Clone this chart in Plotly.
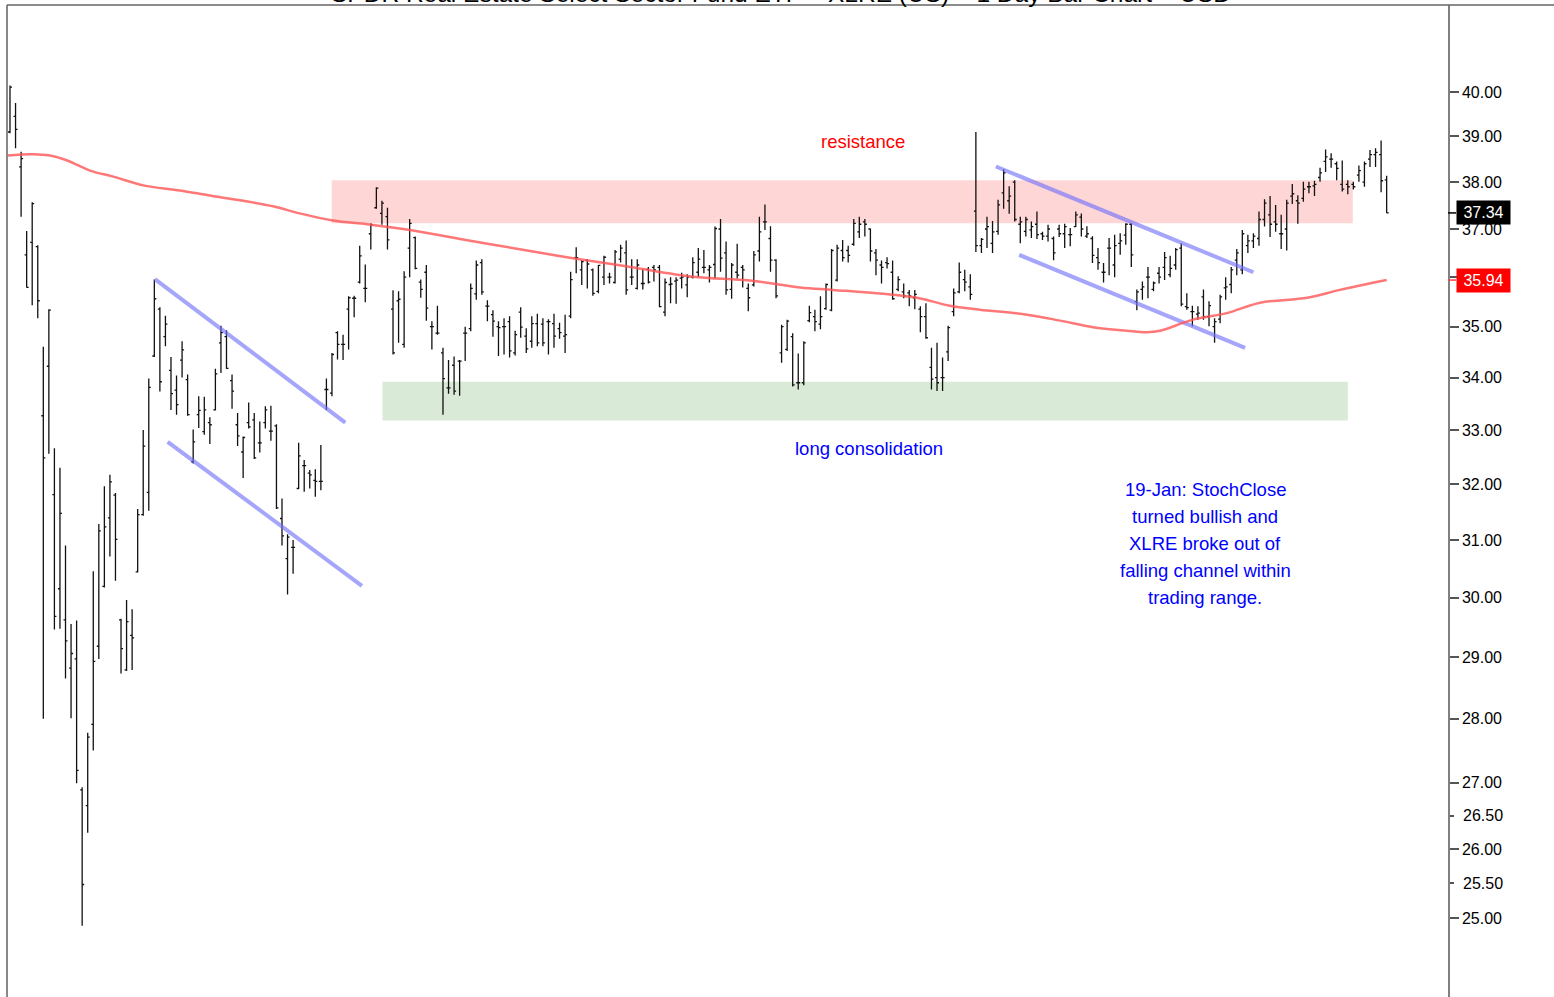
import math
import plotly.graph_objects as go

# ---------------- data ----------------
title_text = "SPDR Real Estate Select Sector Fund ETF – XLRE (US) – 1 Day Bar Chart – USD"

opens = [
    39.10, 39.45, 38.33, 36.46, 36.72, 36.63, 33.27, 34.22, 31.81, 30.15,
    29.62, 28.82, 28.97, 26.89, 26.65, 27.91, 29.18, 30.19, 31.39, 31.80,
    29.62, 28.79, 29.36, 30.44, 31.45, 31.85, 34.42, 35.35, 34.80, 34.14,
    33.76, 34.34, 33.96, 32.41, 33.29, 32.97, 33.14, 33.38, 34.68, 34.80,
    33.94, 33.10, 32.59, 33.14, 33.19, 32.76, 33.14, 32.98, 33.08, 31.38,
    30.67, 30.87, 31.92, 32.34, 32.20, 32.07, 32.05, 33.77, 33.70, 34.88,
    34.65, 35.35, 35.57, 35.90, 35.77, 36.90, 37.45, 37.33, 37.26, 35.35,
    35.52, 34.65, 36.60, 36.82, 35.90, 36.10, 35.00, 34.87, 34.48, 33.80,
    34.24, 34.32, 34.87, 34.96, 35.66, 36.30, 35.41, 35.24, 35.00, 35.00,
    35.10, 34.48, 35.29, 34.81, 34.71, 35.06, 35.05, 35.10, 35.06, 34.96,
    34.81, 35.21, 36.40, 36.15, 36.35, 36.15, 35.71, 36.00, 36.00, 35.89,
    36.37, 36.50, 36.00, 35.77, 35.87, 36.16, 36.20, 36.20, 35.29, 35.85,
    35.92, 35.98, 35.84, 36.00, 36.10, 36.20, 36.15, 36.26, 37.00, 36.50,
    35.75, 36.10, 36.20, 35.77, 35.84, 36.54, 37.15, 36.80, 36.35, 34.48,
    34.55, 34.80, 33.90, 33.90, 35.12, 35.20, 35.05, 35.36, 35.33, 35.94,
    36.55, 36.55, 36.68, 36.94, 37.15, 37.00, 36.50, 36.25, 36.30, 36.10,
    35.75, 35.70, 35.68, 35.58, 35.35, 35.20, 34.20, 34.00, 34.00, 34.50,
    35.30, 35.70, 35.95, 35.80, 37.38, 36.65, 37.00, 36.70, 36.95, 37.77,
    37.60, 38.00, 37.10, 36.95, 36.98, 37.10, 36.90, 36.85, 36.80, 37.00,
    36.90, 36.88, 37.05, 37.25, 36.85, 36.80, 36.40, 36.10, 36.60, 36.25,
    36.70, 36.87, 37.10, 35.50, 35.75, 36.00, 35.75, 36.08, 36.20, 36.05,
    36.25, 36.60, 35.40, 35.30, 35.25, 35.60, 35.20, 35.00, 35.15, 35.78,
    35.85, 36.35, 36.15, 36.65, 36.75, 36.80, 37.20, 37.30, 37.15, 36.90,
    37.00, 37.70, 37.60, 37.65, 37.90, 37.92, 38.10, 38.45, 38.50, 38.40,
    37.95, 37.95, 37.95, 38.15, 38.00, 38.50, 38.60, 38.60, 38.05,
]
highs = [
    40.15, 39.75, 38.66, 36.96, 37.57, 36.66, 34.60, 35.35, 32.66, 32.30,
    30.90, 29.55, 29.61, 26.93, 27.78, 30.45, 31.28, 31.96, 32.17, 31.84,
    29.64, 29.96, 29.80, 31.55, 33.00, 33.98, 35.95, 35.39, 35.22, 34.40,
    34.04, 34.71, 34.06, 33.01, 33.64, 33.63, 33.24, 34.17, 35.02, 34.93,
    34.06, 33.32, 32.88, 33.52, 33.32, 33.16, 33.45, 33.46, 33.11, 31.74,
    31.10, 31.00, 32.76, 32.44, 32.26, 32.27, 32.72, 33.98, 34.48, 34.91,
    34.84, 35.61, 35.62, 36.65, 36.26, 37.12, 37.89, 37.60, 37.45, 35.73,
    35.71, 36.12, 37.21, 36.84, 35.95, 36.25, 35.11, 35.42, 34.58, 34.34,
    34.41, 34.34, 35.00, 35.87, 36.34, 36.37, 35.53, 35.33, 35.11, 35.17,
    35.21, 34.92, 35.39, 34.97, 35.21, 35.26, 35.17, 35.15, 35.26, 35.08,
    35.24, 36.11, 36.62, 36.35, 36.37, 36.18, 36.25, 36.44, 36.09, 36.56,
    36.67, 36.76, 36.37, 36.37, 36.16, 36.21, 36.25, 36.25, 35.97, 36.00,
    36.00, 36.09, 36.06, 36.41, 36.60, 36.56, 36.25, 37.05, 37.21, 36.74,
    36.29, 36.69, 36.25, 35.87, 36.54, 37.26, 37.52, 37.06, 36.37, 35.04,
    35.14, 34.87, 34.47, 34.71, 35.42, 35.34, 35.61, 35.87, 36.58, 36.67,
    36.77, 36.65, 37.21, 37.26, 37.21, 37.01, 36.58, 36.34, 36.41, 36.34,
    36.02, 35.87, 35.74, 35.74, 35.41, 35.47, 34.58, 34.68, 34.39, 35.02,
    35.77, 36.30, 36.15, 36.06, 39.10, 36.81, 37.26, 37.17, 37.62, 38.28,
    37.91, 38.04, 37.26, 37.26, 37.16, 37.37, 36.94, 37.09, 36.84, 37.09,
    37.11, 37.02, 37.37, 37.33, 37.06, 36.85, 36.60, 36.29, 36.81, 36.88,
    36.91, 37.12, 37.12, 35.75, 35.91, 36.21, 35.91, 36.21, 36.52, 36.44,
    36.60, 36.70, 35.67, 35.42, 35.41, 35.75, 35.51, 35.17, 35.64, 36.00,
    36.21, 36.58, 36.98, 36.88, 36.91, 37.37, 37.63, 37.70, 37.51, 37.30,
    37.62, 37.96, 37.72, 38.01, 38.01, 38.03, 38.31, 38.71, 38.63, 38.45,
    38.47, 38.04, 38.01, 38.36, 38.45, 38.70, 38.74, 38.91, 38.14,
]
lows = [
    39.07, 38.74, 37.26, 35.79, 35.43, 35.17, 28.00, 32.56, 29.46, 29.47,
    28.65, 28.01, 26.99, 24.89, 26.24, 27.50, 28.97, 30.17, 30.71, 30.29,
    28.73, 28.77, 28.79, 30.43, 31.43, 31.52, 34.40, 33.73, 34.61, 33.38,
    33.29, 34.00, 33.27, 32.38, 33.04, 32.91, 32.74, 33.37, 34.09, 34.17,
    33.40, 32.70, 32.11, 33.03, 32.46, 32.58, 33.03, 32.80, 31.55, 30.90,
    30.05, 30.41, 31.91, 31.86, 31.92, 31.77, 31.89, 33.38, 33.64, 34.35,
    34.34, 34.55, 35.19, 35.87, 35.49, 36.57, 37.43, 37.09, 36.57, 34.45,
    34.68, 34.58, 36.00, 36.16, 35.58, 35.12, 34.55, 34.84, 33.29, 33.69,
    33.67, 33.65, 34.32, 34.91, 35.54, 35.64, 35.11, 34.80, 34.42, 34.45,
    34.39, 34.43, 34.78, 34.48, 34.58, 34.61, 34.61, 34.45, 34.58, 34.76,
    34.48, 35.17, 36.08, 35.84, 35.77, 35.62, 35.67, 35.84, 35.87, 35.87,
    36.30, 35.64, 35.84, 35.75, 35.75, 35.87, 35.91, 35.39, 35.21, 35.47,
    35.46, 35.77, 35.59, 35.97, 36.00, 36.08, 35.89, 35.97, 36.11, 35.64,
    35.56, 35.97, 35.79, 35.31, 35.81, 36.32, 36.98, 36.11, 35.57, 34.29,
    34.52, 33.83, 33.77, 33.85, 35.09, 34.91, 34.95, 35.34, 35.31, 35.91,
    36.32, 36.30, 36.65, 36.81, 36.84, 36.32, 36.04, 35.87, 36.18, 35.54,
    35.71, 35.57, 35.41, 35.35, 34.89, 34.76, 33.77, 33.74, 33.74, 34.32,
    35.21, 35.67, 35.71, 35.54, 36.52, 36.50, 36.60, 36.50, 36.88, 37.43,
    37.32, 37.16, 36.70, 36.84, 36.81, 36.79, 36.77, 36.74, 36.35, 36.83,
    36.60, 36.64, 37.04, 36.84, 36.81, 36.29, 36.15, 35.89, 36.04, 36.00,
    36.46, 36.67, 36.21, 35.33, 35.54, 35.57, 35.71, 35.87, 35.94, 36.00,
    36.15, 35.41, 35.34, 35.01, 35.14, 35.14, 35.01, 34.68, 35.07, 35.54,
    35.67, 36.04, 36.06, 36.50, 36.60, 36.65, 37.05, 36.83, 36.94, 36.58,
    36.55, 37.53, 37.11, 37.58, 37.76, 37.70, 38.01, 38.22, 38.31, 38.04,
    37.80, 37.74, 37.84, 38.01, 37.90, 38.33, 38.33, 37.78, 37.34,
]
closes = [
    40.11, 39.16, 38.51, 35.79, 37.54, 35.52, 32.48, 35.33, 29.68, 31.47,
    29.27, 29.06, 27.19, 25.48, 27.71, 28.93, 31.16, 31.23, 32.04, 31.01,
    29.14, 29.59, 29.32, 31.45, 32.70, 33.81, 35.56, 33.92, 35.05, 33.69,
    33.48, 34.54, 33.29, 32.78, 33.37, 33.38, 33.10, 34.07, 34.88, 34.18,
    33.74, 32.89, 32.86, 33.06, 32.48, 32.76, 33.38, 32.98, 31.57, 31.07,
    31.05, 30.87, 32.52, 32.34, 32.17, 32.05, 32.05, 33.77, 34.45, 34.65,
    34.65, 35.58, 35.57, 36.44, 35.77, 37.09, 37.87, 37.55, 36.77, 34.48,
    35.55, 36.00, 37.12, 36.18, 35.75, 35.37, 35.00, 34.87, 33.98, 33.80,
    33.74, 34.32, 34.87, 35.77, 36.25, 35.70, 35.41, 35.11, 34.98, 35.00,
    34.52, 34.84, 34.99, 34.56, 35.06, 34.68, 34.68, 35.10, 34.81, 34.88,
    34.84, 35.95, 36.40, 36.32, 36.27, 35.67, 36.24, 36.41, 36.00, 36.52,
    36.60, 35.74, 36.00, 36.25, 35.87, 35.90, 36.15, 35.40, 35.89, 35.86,
    35.94, 36.00, 36.00, 36.30, 36.37, 36.20, 36.20, 37.01, 36.39, 35.74,
    36.25, 36.04, 36.15, 35.58, 36.46, 36.94, 37.15, 36.35, 35.62, 35.00,
    35.11, 33.86, 33.90, 34.68, 35.28, 35.10, 35.20, 35.85, 36.55, 36.60,
    36.40, 36.45, 37.12, 37.10, 37.10, 36.54, 36.35, 36.20, 36.28, 35.56,
    35.95, 35.62, 35.62, 35.65, 35.20, 34.78, 33.97, 33.90, 34.00, 34.98,
    35.68, 36.10, 35.90, 35.65, 36.65, 36.78, 37.05, 36.94, 37.51, 38.20,
    37.70, 37.20, 37.15, 37.20, 37.05, 36.88, 36.85, 37.00, 36.50, 36.90,
    37.05, 36.88, 37.30, 37.00, 36.90, 36.45, 36.30, 36.10, 36.60, 36.65,
    36.75, 37.10, 36.46, 35.70, 35.80, 36.00, 35.88, 36.00, 36.40, 36.18,
    36.57, 35.45, 35.38, 35.30, 35.27, 35.20, 35.42, 35.10, 35.60, 35.80,
    36.15, 36.50, 36.90, 36.75, 36.85, 37.20, 37.55, 37.10, 37.10, 36.90,
    37.55, 37.75, 37.55, 37.85, 37.90, 37.95, 38.20, 38.55, 38.50, 38.30,
    37.85, 37.90, 37.90, 38.25, 38.40, 38.60, 38.65, 38.03, 37.34,
]
bar_index = list(range(len(opens)))

# moving average (bar index, price)
ma_index = [-0.5, 4.1, 7.2, 10.3, 14.4, 18.6, 24.0, 30.6, 36.0, 41.4, 47.4, 52.2,
            58.2, 64.3, 72.1, 81.6, 93.7, 101.4, 111.7, 123.0, 133.3, 142.3, 148.3,
            157.3, 163.4, 169.3, 174.7, 183.2, 189.2, 195.1, 201.2, 204.8, 207.2,
            213.1, 219.2, 225.2, 233.7, 239.6, 248.0]
ma_values = [38.58, 38.61, 38.58, 38.47, 38.25, 38.12, 37.93, 37.82, 37.71, 37.61,
             37.48, 37.33, 37.18, 37.10, 36.98, 36.78, 36.54, 36.39, 36.21, 36.01,
             35.93, 35.79, 35.74, 35.66, 35.58, 35.42, 35.34, 35.24, 35.12, 34.99,
             34.92, 34.89, 34.92, 35.14, 35.27, 35.48, 35.58, 35.74, 35.94]

# channel trend lines (bar index pairs, price pairs)
channel_x = [[26.1, 60.4], [28.4, 63.4], [177.6, 224.0], [181.8, 222.5]]
channel_y = [[35.96, 33.14], [32.78, 30.20], [38.34, 36.10], [36.46, 34.58]]

# zones (bar index range, price range)
resistance_x = [57.95, 241.9]
resistance_y = [37.12, 38.04]
support_x = [67.1, 241.0]
support_y = [33.18, 33.92]

tick_values = [25, 26, 27, 28, 29, 30, 31, 32, 33, 34, 35, 36, 37, 38, 39, 40]
tick_labels = ["%.2f" % v for v in tick_values]
half_tick_values = [25.5, 26.5]
half_tick_labels = ["25.50", "26.50"]

note_lines = ["19-Jan: StochClose", "turned bullish and", "XLRE broke out of",
              "falling channel within", "trading range."]

last_close = closes[-1]
last_ma = ma_values[-1]

# ---------------- layout constants ----------------
W, H = 1554, 997
ML, MR, MT, MB = 7, 106, 5, 0
PW = W - ML - MR
PH = H - MT - MB
FONT = "Liberation Sans, Arial, sans-serif"
AX_FONT = 16


def px_x(p):
    return (p - ML) / PW


def px_y(p):
    return 1 - (p - MT) / PH


fig = go.Figure()

for cx, cy in zip(channel_x, channel_y):
    fig.add_trace(go.Scatter(x=cx, y=cy, mode="lines",
                             line=dict(color="rgba(110,110,250,0.62)", width=4),
                             hoverinfo="skip", showlegend=False))

fig.add_trace(go.Scatter(x=ma_index, y=ma_values, mode="lines",
                         line=dict(color="rgba(255,85,85,0.8)", width=2.5, shape="spline"),
                         hoverinfo="skip", showlegend=False))

fig.add_trace(go.Ohlc(x=bar_index, open=opens, high=highs, low=lows, close=closes,
                      increasing=dict(line=dict(color="#111111", width=1.3)),
                      decreasing=dict(line=dict(color="#111111", width=1.3)),
                      tickwidth=0.36, showlegend=False, hoverinfo="skip"))

shapes = [
    dict(type="rect", xref="x", yref="y", x0=resistance_x[0], x1=resistance_x[1],
         y0=resistance_y[0], y1=resistance_y[1], fillcolor="#FFD6D6",
         line=dict(width=0), layer="below"),
    dict(type="rect", xref="x", yref="y", x0=support_x[0], x1=support_x[1],
         y0=support_y[0], y1=support_y[1], fillcolor="#D9EAD7",
         line=dict(width=0), layer="below"),
    # frame: left and top border
    dict(type="line", xref="paper", yref="paper", x0=0, x1=0, y0=0, y1=1,
         line=dict(color="#888888", width=2)),
    dict(type="line", xref="paper", yref="paper", x0=0, x1=(W - ML) / PW, y0=1, y1=1,
         line=dict(color="#666666", width=1.5)),
    # small ticks for price labels
    dict(type="line", xref="paper", yref="y", x0=1, x1=1 + 8 / PW,
         y0=last_close, y1=last_close, line=dict(color="#000000", width=1.5)),
    dict(type="line", xref="paper", yref="y", x0=1, x1=1 + 8 / PW,
         y0=last_ma, y1=last_ma, line=dict(color="#FF4040", width=1.5)),
]

annotations = [
    dict(text=title_text, xref="paper", yref="paper", x=px_x(781), y=1,
         xanchor="center", yanchor="bottom", yshift=-4, showarrow=False,
         font=dict(family=FONT, size=24.5, color="#000000")),
    dict(text="resistance", xref="paper", yref="paper", x=px_x(863), y=px_y(141),
         xanchor="center", yanchor="middle", showarrow=False,
         font=dict(family=FONT, size=18.5, color="#FF0000")),
    dict(text="long consolidation", xref="paper", yref="paper", x=px_x(869), y=px_y(449),
         xanchor="center", yanchor="middle", showarrow=False,
         font=dict(family=FONT, size=18.5, color="#0000FF")),
]
for k, line in enumerate(note_lines):
    annotations.append(dict(text=line, xref="paper", yref="paper", x=px_x(1205),
                            y=px_y(489 + 27.2 * k), xanchor="center", yanchor="middle",
                            showarrow=False,
                            font=dict(family=FONT, size=18.5, color="#0000FF")))

for v, lab in zip(half_tick_values, half_tick_labels):
    annotations.append(dict(text=lab, xref="paper", yref="y", x=1, y=math.log10(v),
                            xanchor="left", yanchor="middle", xshift=14, borderpad=0,
                            showarrow=False,
                            font=dict(family=FONT, size=AX_FONT, color="#000000")))

annotations.append(dict(text="%.2f" % last_close, xref="paper", yref="y", x=1,
                        y=math.log10(last_close), xanchor="left", yanchor="middle",
                        xshift=8, showarrow=False, bgcolor="#000000", borderpad=3,
                        width=47, font=dict(family=FONT, size=AX_FONT, color="#FFFFFF")))
annotations.append(dict(text="%.2f" % last_ma, xref="paper", yref="y", x=1,
                        y=math.log10(last_ma), xanchor="left", yanchor="middle",
                        xshift=8, showarrow=False, bgcolor="#FF0000", borderpad=3,
                        width=47, font=dict(family=FONT, size=AX_FONT, color="#FFFFFF")))

x_lo = -(10 - ML) / 5.551
x_hi = (ML + PW - 10) / 5.551

fig.update_layout(
    width=W, height=H,
    margin=dict(l=ML, r=MR, t=MT, b=MB, pad=0),
    paper_bgcolor="white", plot_bgcolor="white",
    showlegend=False,
    font=dict(family=FONT, size=AX_FONT, color="#000000"),
    xaxis=dict(range=[x_lo, x_hi], visible=False, showgrid=False, zeroline=False,
               rangeslider=dict(visible=False), fixedrange=True),
    yaxis=dict(type="log", range=[math.log10(23.90), math.log10(42.03)], side="right",
               showgrid=False, zeroline=False, tickmode="array",
               tickvals=tick_values, ticktext=tick_labels,
               ticks="outside", ticklen=9, tickwidth=1.5, tickcolor="#555555",
               showline=True, linecolor="#808080", linewidth=1.5,
               tickfont=dict(family=FONT, size=AX_FONT, color="#000000"),
               minor=dict(tickmode="array", tickvals=half_tick_values, ticks="outside",
                          ticklen=4, tickwidth=1.5, tickcolor="#555555", showgrid=False),
               fixedrange=True),
    shapes=shapes,
    annotations=annotations,
)

fig.write_html("out.html",
               config={"displayModeBar": False},
               post_script="document.body.style.margin='0px';document.body.style.overflow='hidden';")
